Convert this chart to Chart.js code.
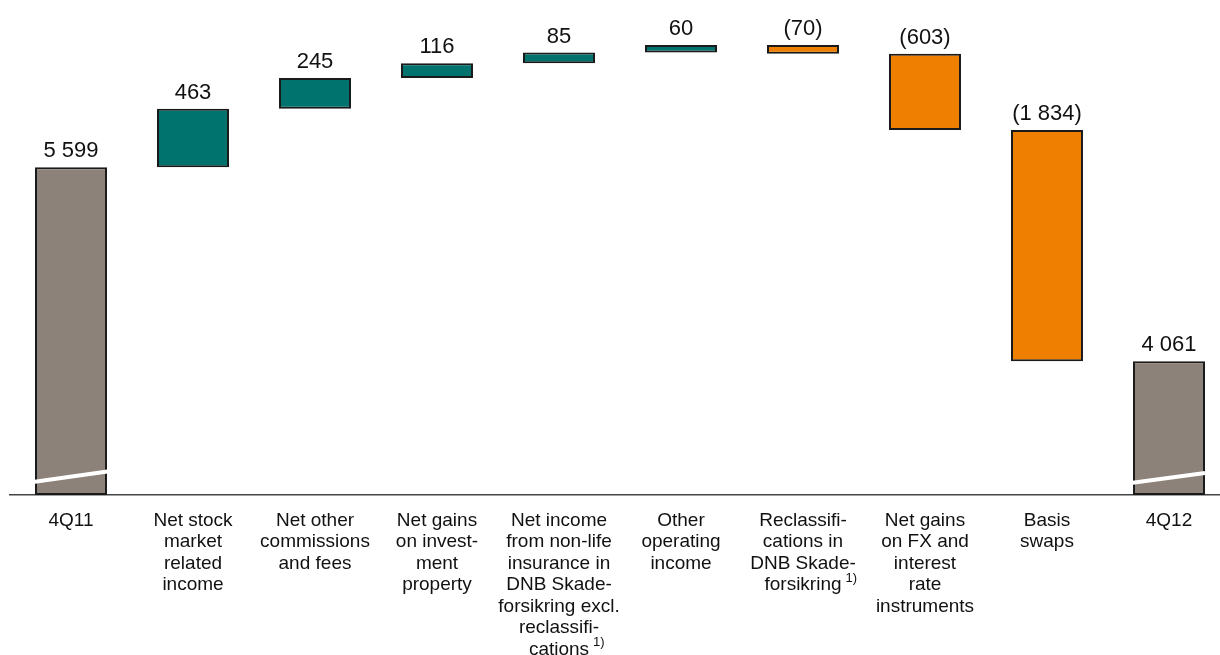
<!DOCTYPE html>
<html>
<head>
<meta charset="utf-8">
<title>Waterfall 4Q11 to 4Q12</title>
<script src="https://cdn.jsdelivr.net/npm/chart.js@4.4.1/dist/chart.umd.min.js"></script>
<style>
  html, body { margin: 0; padding: 0; background: #fff; overflow: hidden; width: 1220px; height: 655px; }
  canvas { display: block; }
</style>
</head>
<body>
<canvas id="chart" width="1240" height="655"></canvas>
<script>
// Category labels, one line per array entry
const categories = [
  ["4Q11"],
  ["Net stock", "market", "related", "income"],
  ["Net other", "commissions", "and fees"],
  ["Net gains", "on invest-", "ment", "property"],
  ["Net income", "from non-life", "insurance in", "DNB Skade-", "forsikring excl.", "reclassifi-", "cations"],
  ["Other", "operating", "income"],
  ["Reclassifi-", "cations in", "DNB Skade-", "forsikring"],
  ["Net gains", "on FX and", "interest", "rate", "instruments"],
  ["Basis", "swaps"],
  ["4Q12"]
];
// Totals at the ends, changes in between (NOK million)
const values = [5599, 463, 245, 116, 85, 60, -70, -603, -1834, 4061];
const kinds = ["total", "delta", "delta", "delta", "delta", "delta", "delta", "delta", "delta", "total"];
// Categories whose label carries footnote 1)
const footnoted = [false, false, false, false, true, false, true, false, false, false];

// Broken value axis: bars start from this floor
const axisMin = 3000;
const axisMax = 6925;

const COLORS = { total: "#8C8279", up: "#00736F", down: "#EE7F00" };

// Build the floating ranges for the waterfall
let running = 0;
const ranges = values.map((v, i) => {
  if (kinds[i] === "total") { running = v; return [axisMin, v]; }
  const start = running;
  running += v;
  return [start, running];
});
const fills = values.map((v, i) => kinds[i] === "total" ? COLORS.total : (v >= 0 ? COLORS.up : COLORS.down));

function fmt(v) {
  const s = Math.abs(v).toString().replace(/\B(?=(\d{3})+(?!\d))/g, " ");
  return v < 0 ? "(" + s + ")" : s;
}

const FONT = "'Liberation Sans', Arial, Helvetica, sans-serif";
const TICK_SIZE = 19, TICK_LH = 1.13, TICK_PAD = 15;

const waterfallDecor = {
  id: "waterfallDecor",
  afterDatasetsDraw(chart) {
    const ctx = chart.ctx;
    const meta = chart.getDatasetMeta(0);
    ctx.save();
    // axis-break slashes across the two total bars
    meta.data.forEach((bar, i) => {
      if (kinds[i] !== "total") return;
      const half = bar.width / 2;
      const base = Math.max(bar.y, bar.base);
      ctx.strokeStyle = "#ffffff";
      ctx.lineWidth = 4;
      ctx.beginPath();
      if (i === 0) {
        ctx.moveTo(bar.x - half - 2, base - 13);
        ctx.lineTo(bar.x + half + 11, base - 25);
      } else {
        ctx.moveTo(bar.x - half - 17, base - 10);
        ctx.lineTo(bar.x + half, base - 22);
      }
      ctx.stroke();
    });
    // value labels above each bar
    ctx.fillStyle = "#111";
    ctx.font = "22px " + FONT;
    ctx.textAlign = "center";
    ctx.textBaseline = "alphabetic";
    meta.data.forEach((bar, i) => {
      const top = Math.min(bar.y, bar.base);
      ctx.fillText(fmt(values[i]), bar.x, top - 10);
    });
    ctx.restore();
  },
  afterDraw(chart) {
    // footnote markers after the last label line
    const ctx = chart.ctx;
    const xs = chart.scales.x;
    const lh = TICK_SIZE * TICK_LH;
    ctx.save();
    footnoted.forEach((f, i) => {
      if (!f) return;
      const lines = categories[i];
      const last = lines[lines.length - 1];
      ctx.font = TICK_SIZE + "px " + FONT;
      const w = ctx.measureText(last).width;
      const cx = xs.getPixelForTick(i);
      const y = xs.top + TICK_PAD + (lines.length - 0.5) * lh;
      ctx.font = "13px " + FONT;
      ctx.fillStyle = "#111";
      ctx.textAlign = "left";
      ctx.textBaseline = "middle";
      ctx.fillText("1)", cx + w / 2 + 4, y - 7);
    });
    ctx.restore();
  }
};

new Chart(document.getElementById("chart"), {
  type: "bar",
  data: {
    labels: categories,
    datasets: [{
      data: ranges,
      backgroundColor: fills,
      borderColor: "#1a1a1a",
      borderWidth: 2,
      borderSkipped: false,
      barPercentage: 0.59,
      categoryPercentage: 1.0
    }]
  },
  options: {
    responsive: false,
    animation: false,
    devicePixelRatio: 1,
    layout: { padding: { left: 10, right: 10, top: 0, bottom: 0 } },
    plugins: { legend: { display: false }, tooltip: { enabled: false } },
    scales: {
      x: {
        grid: { display: false, drawTicks: false, tickLength: 0 },
        border: { display: true, color: "#444", width: 1.5 },
        ticks: {
          autoSkip: false,
          maxRotation: 0,
          minRotation: 0,
          padding: TICK_PAD,
          color: "#111",
          font: { family: FONT, size: TICK_SIZE, lineHeight: TICK_LH }
        },
        afterFit(scale) { scale.height = 160; }
      },
      y: { display: false, min: axisMin, max: axisMax }
    }
  },
  plugins: [waterfallDecor]
});
</script>
</body>
</html>
